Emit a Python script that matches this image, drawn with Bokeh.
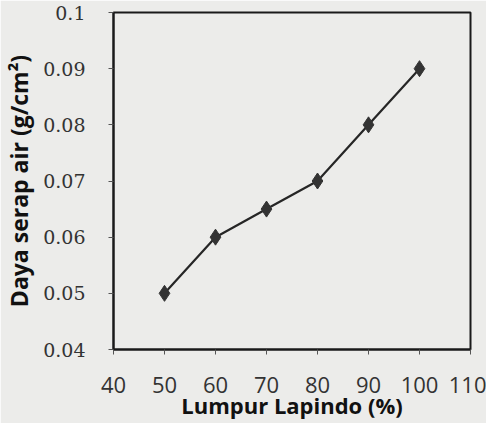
from bokeh.plotting import figure
from bokeh.models import FixedTicker, Range1d
from bokeh.embed import file_html
from bokeh.resources import INLINE

lumpur = [50, 60, 70, 80, 90, 100]
daya_serap = [0.05, 0.06, 0.065, 0.07, 0.08, 0.09]
x_ticks = [40, 50, 60, 70, 80, 90, 100, 110]
y_ticks = [0.04, 0.05, 0.06, 0.07, 0.08, 0.09, 0.1]
y_tick_labels = ["0.04", "0.05", "0.06", "0.07", "0.08", "0.09", "0.1"]

bg = "#ececea"
p = figure(width=486, height=423, output_backend="svg", toolbar_location=None,
           x_range=Range1d(40, 110), y_range=Range1d(0.04, 0.1),
           min_border_left=112, min_border_top=12, min_border_right=16, min_border_bottom=74,
           background_fill_color=bg, border_fill_color=bg)

p.line(lumpur, daya_serap, line_color="#262626", line_width=2.2)
p.scatter(lumpur, daya_serap, marker="diamond", size=16, fill_color="#333333", line_color="#333333")

p.grid.visible = False
p.outline_line_color = "#1a1a1a"
p.outline_line_width = 2

p.xaxis.ticker = FixedTicker(ticks=x_ticks)
p.yaxis.ticker = FixedTicker(ticks=y_ticks)
p.yaxis.major_label_overrides = {t: l for t, l in zip(y_ticks, y_tick_labels)}
p.xaxis.major_label_overrides = {t: str(t) for t in x_ticks}

for ax in (p.xaxis, p.yaxis):
    ax.axis_line_color = "#1a1a1a"
    ax.axis_line_width = 2
    ax.major_tick_line_color = "#555555"
    ax.major_tick_in = 0
    ax.major_tick_out = 5
    ax.minor_tick_line_color = None
    ax.major_label_text_color = "#333333"
    ax.axis_label_text_color = "#111111"
    ax.axis_label_text_font_style = "bold"
    ax.axis_label_text_font = "Open Sans"

p.yaxis.major_label_text_font = "DejaVu Serif"
p.yaxis.major_label_text_font_size = "19px"
p.yaxis.major_label_standoff = 23
p.yaxis.axis_label = "Daya serap air (g/cm²)"
p.yaxis.axis_label_text_font_size = "23px"
p.yaxis.axis_label_standoff = 5

p.xaxis.major_label_text_font = "Open Sans"
p.xaxis.major_label_text_font_size = "22px"
p.xaxis.major_label_standoff = 22
p.xaxis.axis_label = "Lumpur Lapindo (%)"
p.xaxis.axis_label_text_font_size = "22px"
p.xaxis.axis_label_standoff = -6

open("out.html", "w").write(file_html(p, INLINE))
